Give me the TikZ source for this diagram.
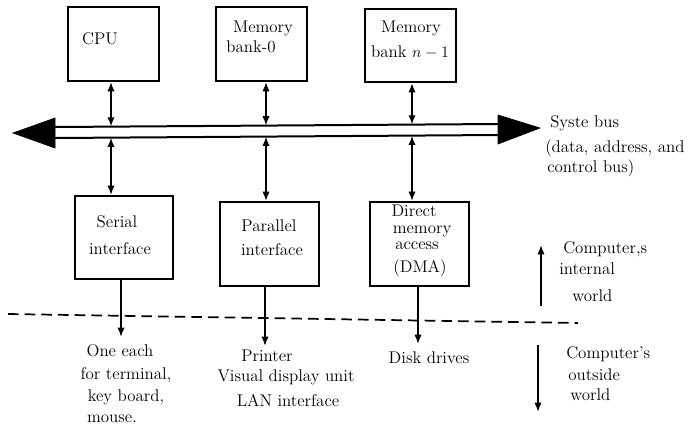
\documentclass[tikz,border=0pt]{standalone}
\usetikzlibrary{arrows.meta,calc}
\newcommand\pxu{0.75pt}
\tikzset{
  box/.style={draw, line width=1.5pt, inner sep=0pt},
  lbl/.style={anchor=base, inner sep=0pt, font=\fontsize{12.7}{15}\selectfont},
  lbll/.style={lbl, anchor=base west},
  link/.style={line width=1.3pt, {Latex[length=7pt,width=5.5pt]}-{Latex[length=7pt,width=5.5pt]}},
  outarrow/.style={line width=1.3pt, -{Latex[length=7pt,width=5.5pt]}},
  busline/.style={line width=1.5pt},
  busend/.style={fill=black, draw=black, line width=0.5pt},
}
\begin{document}
\begin{tikzpicture}[x=0.75pt,y=-0.75pt]
\useasboundingbox (0,0) rectangle (688,426);

% processor and memory banks
\node[box, minimum width=91*\pxu, minimum height=74*\pxu] (cpu)  at (113.5,44) {};
\node[box, minimum width=91*\pxu, minimum height=74*\pxu] (mem0) at (261.5,44) {};
\node[box, minimum width=91*\pxu, minimum height=73*\pxu] (memn) at (410.5,45.5) {};
\node[lbl] (cpuT)  at (100,44) {CPU};
\node[lbl] (mem0a) at (263,32) {Memory};
\node[lbl] (mem0b) at (251,52) {bank-0};
\node[lbl] (memna) at (411,32) {Memory};
\node[lbl] (memnb) at (410,57) {bank $n-1$};

% interfaces
\node[box, minimum width=98*\pxu, minimum height=83*\pxu] (ser) at (124,237.5) {};
\node[box, minimum width=99*\pxu, minimum height=84*\pxu] (par) at (269.5,244) {};
\node[box, minimum width=99*\pxu, minimum height=84*\pxu] (dma) at (419.5,244) {};
\node[lbl] (serA) at (117,227) {Serial};
\node[lbl] (serB) at (120,254) {interface};
\node[lbl] (parA) at (269,231) {Parallel};
\node[lbl] (parB) at (272,255) {interface};
\node[lbl] (dmaA) at (414,216) {Direct};
\node[lbl] (dmaB) at (422,233) {memory};
\node[lbl] (dmaC) at (417,249) {access};
\node[lbl] (dmaD) at (420,272) {(DMA)};

% system bus: two rails with solid heads
\coordinate (busLT) at (55,127);
\coordinate (busRT) at (498,124);
\coordinate (busLB) at (55,138);
\coordinate (busRB) at (498,135);
\draw[busline] (busLT) -- (busRT);
\draw[busline] (busLB) -- (busRB);
\fill[busend] (13,133) -- (55,118) -- (55,148) -- cycle;
\fill[busend] (498,115) -- (540,128) -- (498,144) -- cycle;
\node[lbll] (busA) at (550,127) {Syste bus};
\node[lbll] (busB) at (545,152) {(data, address, and};
\node[lbll] (busC) at (547,172) {control bus)};

% taps on the bus
\coordinate (t1) at ($(busLT)!0.1264!(busRT)$);
\coordinate (t2) at ($(busLT)!0.4763!(busRT)$);
\coordinate (t3) at ($(busLT)!0.8059!(busRT)$);
\coordinate (b1) at ($(busLB)!0.1264!(busRB)$);
\coordinate (b2) at ($(busLB)!0.4763!(busRB)$);
\coordinate (b3) at ($(busLB)!0.8059!(busRB)$);

\draw[link] (cpu.south -| t1) -- (t1);
\draw[link] (mem0.south -| t2) -- (t2);
\draw[link] (memn.south -| t3) -- (t3);
\draw[link] (b1) -- (ser.north -| b1);
\draw[link] (b2) -- (par.north -| b2);
\draw[link] (b3) -- (dma.north -| b3);

% boundary between inside and outside
\draw[line width=1.3pt, dash pattern=on 8pt off 4.5pt] (8,314) -- (578,323);

% outputs
\coordinate (o1) at (121,337);
\coordinate (o2) at (265,346);
\coordinate (o3) at (418,344);
\draw[outarrow] (ser.south -| o1) -- (o1);
\draw[outarrow] (par.south -| o2) -- (o2);
\draw[outarrow] (dma.south -| o3) -- (o3);

\node[lbl] (d1a) at (120,356) {One each};
\node[lbl] (d1b) at (126,379) {for terminal,};
\node[lbl] (d1c) at (126,401) {key board,};
\node[lbl] (d1d) at (112,422) {mouse.};
\node[lbl] (d2a) at (267,361) {Printer};
\node[lbl] (d2b) at (286,381) {Visual display unit};
\node[lbl] (d2c) at (288,406) {LAN interface};
\node[lbl] (d3a) at (429,363) {Disk drives};

% inside / outside legend
\coordinate (upA) at (541,306);
\coordinate (upB) at (541,245);
\coordinate (dnA) at (538,345);
\coordinate (dnB) at (538,412);
\draw[outarrow] (upA) -- (upB);
\draw[outarrow] (dnA) -- (dnB);
\node[lbll] (inA) at (563,253) {Computer,s};
\node[lbll] (inB) at (559,274) {internal};
\node[lbll] (inC) at (572,301) {world};
\node[lbll] (exA) at (566,358) {Computer's};
\node[lbll] (exB) at (568,380) {outside};
\node[lbll] (exC) at (570,400) {world};
\end{tikzpicture}
\end{document}
